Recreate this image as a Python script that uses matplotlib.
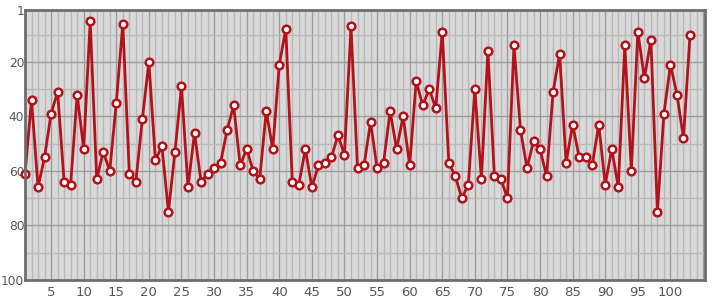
import numpy as np
import matplotlib.pyplot as plt

ranks = [61, 34, 66, 55, 39, 31, 64, 65, 32, 52,
         5, 63, 53, 60, 35, 6, 61, 64, 41, 20,
         56, 51, 75, 53, 29, 66, 46, 64, 61, 59,
         57, 45, 36, 58, 52, 60, 63, 38, 52, 21,
         8, 64, 65, 52, 66, 58, 57, 55, 47, 54,
         7, 59, 58, 42, 59, 57, 38, 52, 40, 58,
         27, 36, 30, 37, 9, 57, 62, 70, 65, 30,
         63, 16, 62, 63, 70, 14, 45, 59, 49, 52,
         62, 31, 17, 57, 43, 55, 55, 58, 43, 65,
         52, 66, 14, 60, 9, 26, 12, 75, 39, 21,
         32, 48, 10]
x = np.arange(1, len(ranks) + 1)
xticks = [5, 10, 15, 20, 25, 30, 35, 40, 45, 50, 55, 60, 65, 70, 75, 80, 85, 90, 95, 100]
yticks = [1, 20, 40, 60, 80, 100]

fig = plt.figure(figsize=(7.15, 3.0), dpi=100)
ax = fig.add_axes([25/715, 20/300, 680/715, 270/300])
ax.set_facecolor('#d9d9d9')

# grid lines
for xv in range(1, 106):
    c = '#9c9c9c' if xv % 5 == 0 else '#b8b8b8'
    ax.axvline(xv, color=c, lw=1.0, zorder=0)
for yv in range(10, 100, 10):
    c = '#9c9c9c' if yv % 20 == 0 else '#b8b8b8'
    ax.axhline(yv, color=c, lw=1.0, zorder=0)

ax.plot(x, ranks, color='#b3121b', lw=2.0, marker='o', markersize=5.5,
        markerfacecolor='white', markeredgecolor='#b3121b', markeredgewidth=1.8,
        zorder=3, clip_on=False)

ax.set_xlim(1, 105.3)
ax.set_ylim(100, 1)
ax.set_xticks(xticks)
ax.set_yticks(yticks)
ax.tick_params(length=0, labelsize=9.5, colors='#555555', pad=4)
ax.tick_params(axis='y', labelsize=8.8, pad=0.5)
for s in ax.spines.values():
    s.set_color('#6e6e6e')
    s.set_linewidth(2)
    s.set_zorder(4)

plt.savefig('out.png', dpi=100)
